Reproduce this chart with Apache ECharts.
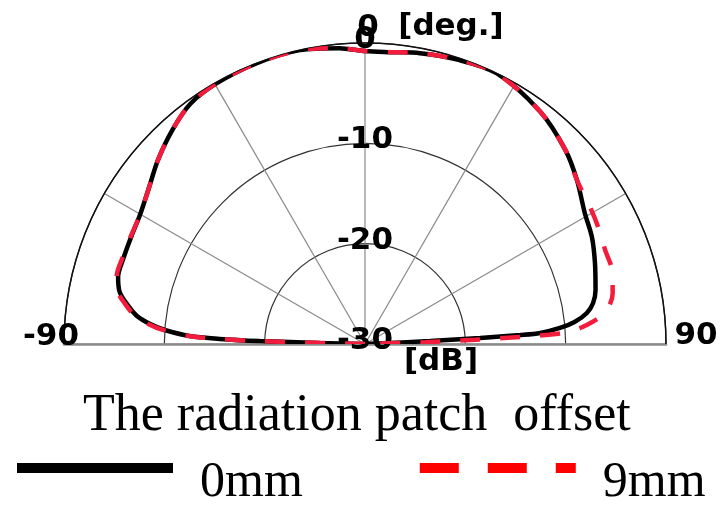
<!DOCTYPE html>
<html>
<head>
<meta charset="utf-8">
<script src="https://cdn.jsdelivr.net/npm/echarts@6/dist/echarts.min.js"></script>
<style>
  html, body { margin: 0; padding: 0; background: #fff; }
  #chart { width: 724px; height: 505px; }
</style>
</head>
<body>
<div id="chart"></div>
<script>
// Elevation angle (deg) and normalised gain (dB) for each patch offset
const angle0mm = [-90, -88.7, -88.4, -88.0, -87.4, -86.0, -84.7, -83.0, -80.5, -78.0, -74.8, -70.1, -64.9, -60.2, -54.6, -48.4, -42.0, -36.0, -29.6, -21.3, -12.5, -5, 0, 5, 10.7, 18, 26, 37, 45.9, 52.3, 59.2, 64.8, 70.6, 76.8, 79.8, 82.1, 84.0, 85.3, 86.4, 86.7, 87.0, 87.4, 90];
const gain0mm  = [-30, -25.5, -19.5, -15.5, -12.5, -10.0, -8.5, -7.1, -5.95, -5.0, -4.5, -4.45, -4.35, -4.15, -3.5, -2.4, -1.3, -0.4, -0.1, 0, 0, -0.4, -0.8, -0.8, -0.5, -0.2, 0, -1.0, -2.2, -3.3, -4.5, -5.0, -5.7, -6.4, -6.9, -7.7, -9.0, -10.5, -12.5, -14.5, -18.5, -23.5, -30];

const angle9mm = [-90, -88.7, -88.4, -88.0, -87.4, -86.0, -84.7, -83.0, -80.5, -78.0, -74.8, -70.1, -64.9, -60.2, -54.6, -48.4, -42.0, -36.0, -29.6, -21.3, -12.5, -5, 0, 5, 10.7, 18, 26, 37, 45.9, 52.3, 58.7, 63.3, 68.6, 73.3, 78.4, 82.6, 85.5, 86.8, 87.4, 87.8, 88.3, 90];
const gain9mm  = [-30, -25.5, -19.5, -15.5, -12.4, -9.8, -8.3, -6.9, -5.75, -4.8, -4.35, -4.35, -4.3, -4.15, -3.5, -2.4, -1.3, -0.4, -0.1, 0, 0, -0.4, -0.8, -0.8, -0.5, -0.2, 0, -1.0, -2.2, -3.3, -3.75, -4.0, -4.3, -4.3, -4.8, -5.9, -8.2, -10.2, -14.5, -19, -24, -30];

// Axis tick labels
const radialTicks = [0, -10, -20, -30];
const angleTicks = [-90, 0, 90];
const angleUnit = '[deg.]';
const radialUnit = '[dB]';
const titleText = 'The radiation patch  offset';
const seriesNames = ['0mm', '9mm'];

const toPolar = (angles, gains) => angles.map((a, i) => [gains[i], a]);

const boldFont = { fontFamily: 'DejaVu Sans', fontWeight: 'bold', fontSize: 31, color: '#000' };

// Text labels anchored on the polar scales
const labelItems = [];
radialTicks.forEach(r => {
  labelItems.push({ value: [r, 0], label: { formatter: String(r), offset: [0, -3] } });
});
labelItems.push({ value: [0, angleTicks[0]], label: { formatter: String(angleTicks[0]), offset: [-13, -7] } });
labelItems.push({ value: [0, angleTicks[2]], label: { formatter: String(angleTicks[2]), offset: [30, -8] } });
labelItems.push({ value: [0, angleTicks[1]], label: { formatter: String(angleTicks[1]), offset: [3, -15] } });
labelItems.push({ value: [0, 0], label: { formatter: angleUnit, offset: [86, -16] } });
labelItems.push({ value: [-30, 0], label: { formatter: radialUnit, offset: [76, 18] } });

// Legend swatches: a bar sitting in the upper part of a 156x40 icon box
const spacer = ' M0 39.9h0.1v0.1h-0.1z';
const solidIcon = 'path://M0 0h156v10h-156z' + spacer;
const dashIcon = 'path://M0 0h39v10h-39z M68 0h39v10h-39z M136 0h20v10h-20z' + spacer;

const hiddenAngle = {
  axisLine: { show: false }, axisTick: { show: false },
  axisLabel: { show: false }, splitLine: { show: false }
};
const baseline = { color: '#8a8a8a', width: 2.5 };

const chart = echarts.init(document.getElementById('chart'), null, { renderer: 'canvas' });

chart.setOption({
  animation: false,
  backgroundColor: '#fff',
  title: {
    text: titleText,
    left: 78,
    top: 385,
    textStyle: { fontFamily: 'Liberation Serif', fontSize: 52, fontWeight: 'normal', color: '#000' }
  },
  legend: {
    left: 12,
    top: 453,
    itemWidth: 156,
    itemHeight: 40,
    itemGap: 117,
    selectedMode: false,
    textStyle: { fontFamily: 'Liberation Serif', fontSize: 50, color: '#000', padding: [0, 0, 0, 22] },
    data: [
      { name: seriesNames[0], icon: solidIcon, itemStyle: { color: '#000', borderWidth: 0 } },
      { name: seriesNames[1], icon: dashIcon, itemStyle: { color: '#ff0000', borderWidth: 0 } }
    ]
  },
  polar: [
    { center: [365, 344], radius: 301 },
    // second frame only carries the right-hand half of the baseline
    { center: [365, 344], radius: 301 }
  ],
  angleAxis: [
    {
      polarIndex: 0,
      type: 'value',
      min: -90,
      max: 90,
      interval: 30,
      startAngle: 180,
      endAngle: 0,
      clockwise: true,
      axisLine: { show: true, lineStyle: { color: '#111', width: 1.5 } },
      axisTick: { show: false },
      axisLabel: { show: false },
      splitLine: { show: true, lineStyle: { color: '#8a8a8a', width: 1.2 } }
    },
    {
      polarIndex: 1,
      type: 'value',
      min: -90,
      max: 90,
      startAngle: 0,
      endAngle: 180,
      clockwise: false,
      ...hiddenAngle
    }
  ],
  radiusAxis: [
    {
      polarIndex: 0,
      type: 'value',
      min: -30,
      max: 0,
      interval: 10,
      axisLine: { show: true, lineStyle: baseline },
      axisTick: { show: false },
      axisLabel: { show: false },
      splitLine: { show: true, lineStyle: { color: '#333', width: 1.2 } }
    },
    {
      polarIndex: 1,
      type: 'value',
      min: -30,
      max: 0,
      axisLine: { show: true, lineStyle: baseline },
      axisTick: { show: false },
      axisLabel: { show: false },
      splitLine: { show: false }
    }
  ],
  series: [
    {
      type: 'scatter',
      coordinateSystem: 'polar',
      polarIndex: 0,
      symbolSize: 0,
      silent: true,
      z: 1,
      itemStyle: { opacity: 1 },
      label: { show: true, position: 'inside', ...boldFont },
      data: labelItems
    },
    {
      name: seriesNames[0],
      type: 'line',
      coordinateSystem: 'polar',
      polarIndex: 0,
      showSymbol: false,
      smooth: 0.3,
      z: 3,
      lineStyle: { color: '#000', width: 4.5 },
      itemStyle: { color: '#000' },
      data: toPolar(angle0mm, gain0mm)
    },
    {
      name: seriesNames[1],
      type: 'line',
      coordinateSystem: 'polar',
      polarIndex: 0,
      showSymbol: false,
      smooth: 0.3,
      z: 4,
      lineStyle: { color: '#f41c3c', width: 4.5, type: [20, 20] },
      itemStyle: { color: '#ff0000' },
      data: toPolar(angle9mm, gain9mm)
    }
  ]
});
</script>
</body>
</html>
